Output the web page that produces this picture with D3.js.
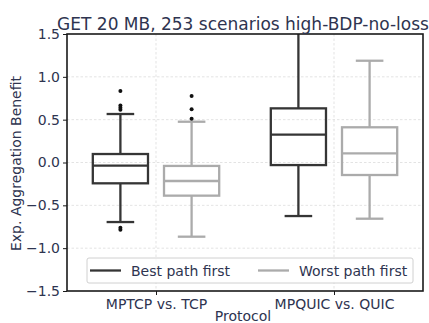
<!DOCTYPE html>
<html>
<head>
<meta charset="utf-8">
<script src="https://cdn.jsdelivr.net/npm/d3@7"></script>
<style>
  html, body { margin: 0; padding: 0; background: #fff; }
  svg { display: block; font-family: "DejaVu Sans", sans-serif; }
</style>
</head>
<body>
<svg id="chart" width="429" height="323"></svg>
<script>
// Protocol comparisons on the x axis
const categories = ["MPTCP vs. TCP", "MPQUIC vs. QUIC"];
// Scheduling variants drawn side by side in each category
const seriesNames = ["Best path first", "Worst path first"];
const seriesColors = ["#353535", "#ababab"];

// Box statistics per series, one entry per category: [whiskerLow, q1, median, q3, whiskerHigh]
const bestStats = [
  [-0.695, -0.243, -0.037, 0.099, 0.566],
  [-0.625, -0.030, 0.325, 0.632, 1.75]
];
const worstStats = [
  [-0.866, -0.387, -0.216, -0.040, 0.476],
  [-0.656, -0.146, 0.107, 0.411, 1.188]
];
// Fliers beyond the whiskers
const bestOutliers = [
  [0.835, 0.665, 0.64, 0.615, -0.762, -0.785],
  []
];
const worstOutliers = [
  [0.776, 0.621, 0.511],
  []
];

const yTicks = [-1.5, -1.0, -0.5, 0.0, 0.5, 1.0, 1.5];

const svg = d3.select("#chart");
const plotLeft = 67, plotRight = 423, plotTop = 34, plotBottom = 291;
const textColor = "#2e3450";
const labelSize = 14;

const x = d3.scaleLinear().domain([-0.5, 1.5]).range([plotLeft, plotRight]);
const y = d3.scaleLinear().domain([-1.5, 1.5]).range([plotBottom, plotTop]);

const hueOffset = [-0.2, 0.2];
const boxWidth = 0.31;

// Grid lines
const grid = svg.append("g");
grid.selectAll("line.h").data(yTicks.slice(1, -1)).join("line")
  .attr("x1", plotLeft).attr("x2", plotRight)
  .attr("y1", d => y(d)).attr("y2", d => y(d))
  .attr("stroke", "#dcdcdc").attr("stroke-width", 0.8).attr("stroke-dasharray", "2.5,2");
grid.selectAll("line.v").data(categories).join("line")
  .attr("x1", (d, i) => x(i)).attr("x2", (d, i) => x(i))
  .attr("y1", plotTop).attr("y2", plotBottom)
  .attr("stroke", "#dcdcdc").attr("stroke-width", 0.8).attr("stroke-dasharray", "2.5,2");

// Clip boxes to the axes area
svg.append("clipPath").attr("id", "plotclip")
  .append("rect").attr("x", plotLeft).attr("y", plotTop)
  .attr("width", plotRight - plotLeft).attr("height", plotBottom - plotTop);

const plot = svg.append("g").attr("clip-path", "url(#plotclip)");

const allStats = [bestStats, worstStats];
const allOutliers = [bestOutliers, worstOutliers];

allStats.forEach((stats, s) => {
  const color = seriesColors[s];
  const g = plot.append("g").attr("stroke", color).attr("stroke-width", 2.3).attr("fill", "none");
  stats.forEach((st, c) => {
    const [lo, q1, med, q3, hi] = st;
    const cx = x(c + hueOffset[s]);
    const x0 = x(c + hueOffset[s] - boxWidth / 2);
    const x1 = x(c + hueOffset[s] + boxWidth / 2);
    const cap0 = x(c + hueOffset[s] - boxWidth / 4);
    const cap1 = x(c + hueOffset[s] + boxWidth / 4);
    // whiskers
    g.append("line").attr("x1", cx).attr("x2", cx).attr("y1", y(q3)).attr("y2", y(hi));
    g.append("line").attr("x1", cx).attr("x2", cx).attr("y1", y(q1)).attr("y2", y(lo));
    // caps
    g.append("line").attr("x1", cap0).attr("x2", cap1).attr("y1", y(hi)).attr("y2", y(hi));
    g.append("line").attr("x1", cap0).attr("x2", cap1).attr("y1", y(lo)).attr("y2", y(lo));
    // box
    g.append("rect").attr("x", x0).attr("y", y(q3))
      .attr("width", x1 - x0).attr("height", y(q1) - y(q3));
    // median
    g.append("line").attr("x1", x0).attr("x2", x1).attr("y1", y(med)).attr("y2", y(med));
    // fliers
    plot.append("g").selectAll("circle").data(allOutliers[s][c]).join("circle")
      .attr("cx", cx).attr("cy", d => y(d)).attr("r", 2).attr("fill", "#111");
  });
});

// Axes frame
svg.append("rect").attr("x", plotLeft).attr("y", plotTop)
  .attr("width", plotRight - plotLeft).attr("height", plotBottom - plotTop)
  .attr("fill", "none").attr("stroke", "#1a1a1a").attr("stroke-width", 1.6);

// Y axis ticks and labels
const yAxis = d3.axisLeft(y).tickValues(yTicks).tickSize(4).tickPadding(3)
  .tickFormat(d => d3.format(".1f")(d).replace("-", "\u2212"));
const yg = svg.append("g").attr("transform", `translate(${plotLeft},0)`).call(yAxis);
yg.select(".domain").remove();
yg.selectAll("line").attr("stroke", "#1a1a1a").attr("stroke-width", 1);
yg.selectAll("text").attr("font-size", labelSize).attr("fill", textColor)
  .attr("font-family", "DejaVu Sans, sans-serif");

// X axis ticks and labels
const xAxis = d3.axisBottom(x).tickValues([0, 1]).tickSize(4).tickPadding(4)
  .tickFormat((d) => categories[d]);
const xg = svg.append("g").attr("transform", `translate(0,${plotBottom})`).call(xAxis);
xg.select(".domain").remove();
xg.selectAll("line").attr("stroke", "#1a1a1a").attr("stroke-width", 1);
xg.selectAll("text").attr("font-size", labelSize).attr("fill", textColor)
  .attr("font-family", "DejaVu Sans, sans-serif");

// Axis labels
svg.append("text").attr("x", 243).attr("y", 321)
  .attr("text-anchor", "middle").attr("font-size", labelSize).attr("fill", textColor)
  .text("Protocol");
svg.append("text")
  .attr("transform", `translate(20.5,${(plotTop + plotBottom) / 2 + 1}) rotate(-90)`)
  .attr("text-anchor", "middle").attr("font-size", labelSize).attr("fill", textColor)
  .text("Exp. Aggregation Benefit");

// Title
svg.append("text").attr("x", 243).attr("y", 30)
  .attr("text-anchor", "middle").attr("font-size", 17).attr("fill", textColor)
  .text("GET 20 MB, 253 scenarios high-BDP-no-loss");

// Legend
const legend = svg.append("g");
legend.append("rect").attr("x", 87).attr("y", 258).attr("width", 326).attr("height", 25)
  .attr("rx", 2).attr("fill", "#fff").attr("fill-opacity", 0.8)
  .attr("stroke", "#d0d0d0").attr("stroke-width", 1);
const legendX = [90, 258];
seriesNames.forEach((name, i) => {
  legend.append("line").attr("x1", legendX[i]).attr("x2", legendX[i] + 31)
    .attr("y1", 270.5).attr("y2", 270.5)
    .attr("stroke", seriesColors[i]).attr("stroke-width", 2.3);
  legend.append("text").attr("x", legendX[i] + 41).attr("y", 275.5)
    .attr("font-size", labelSize).attr("fill", textColor).text(name);
});
</script>
</body>
</html>
